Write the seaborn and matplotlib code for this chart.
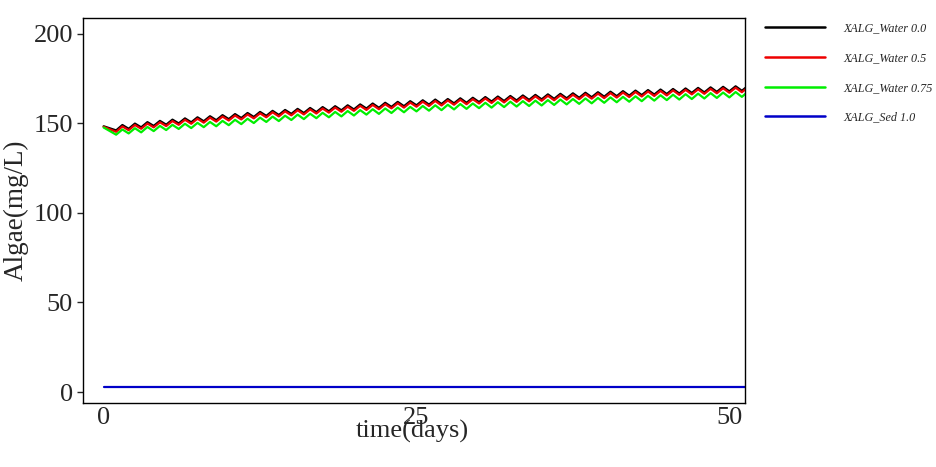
import numpy as np
import pandas as pd
import matplotlib
matplotlib.use("Agg")
import matplotlib.pyplot as plt
import seaborn as sns

# ---------------- data ----------------
series_names = ["XALG_Water 0.0", "XALG_Water 0.5", "XALG_Water 0.75", "XALG_Sed 1.0"]
series_colors = ["#000000", "#ee0000", "#00ee00", "#0000c8"]

start_values = [148.3, 148.0, 147.6]          # day 0
trough_days = list(range(1, 52))              # 1 .. 51
peak_days = [d + 0.5 for d in range(1, 52)]   # 1.5 .. 51.5

black_troughs = [146.0, 146.9, 147.7, 148.5, 149.2, 149.9, 150.5, 151.1, 151.7, 152.3,
                 152.9, 153.5, 154.1, 154.6, 155.2, 155.7, 156.2, 156.7, 157.2, 157.7,
                 158.2, 158.6, 159.1, 159.5, 160.0, 160.4, 160.7, 161.1, 161.4, 161.8,
                 162.1, 162.4, 162.7, 163.0, 163.3, 163.6, 163.9, 164.2, 164.5, 164.8,
                 165.1, 165.4, 165.7, 166.0, 166.3, 166.6, 166.9, 167.2, 167.5, 167.8, 168.1]
black_peaks = [149.0, 149.8, 150.6, 151.3, 152.0, 152.7, 153.3, 153.9, 154.5, 155.1,
               155.7, 156.3, 156.9, 157.4, 158.0, 158.5, 159.0, 159.5, 160.0, 160.5,
               161.0, 161.4, 161.9, 162.3, 162.8, 163.2, 163.5, 163.9, 164.2, 164.6,
               164.9, 165.2, 165.5, 165.8, 166.1, 166.4, 166.7, 167.0, 167.3, 167.6,
               167.9, 168.2, 168.5, 168.8, 169.1, 169.4, 169.7, 170.0, 170.3, 170.6, 170.9]

red_troughs = [145.2, 146.1, 146.9, 147.7, 148.4, 149.1, 149.7, 150.3, 150.9, 151.5,
               152.1, 152.7, 153.3, 153.8, 154.4, 154.9, 155.4, 155.9, 156.4, 156.9,
               157.4, 157.8, 158.3, 158.7, 159.2, 159.6, 159.9, 160.3, 160.6, 161.0,
               161.3, 161.6, 161.9, 162.2, 162.5, 162.8, 163.1, 163.4, 163.7, 164.0,
               164.3, 164.6, 164.9, 165.2, 165.5, 165.8, 166.1, 166.4, 166.7, 167.0, 167.3]
red_peaks = [148.2, 149.0, 149.8, 150.5, 151.2, 151.9, 152.5, 153.1, 153.7, 154.3,
             154.9, 155.5, 156.1, 156.6, 157.2, 157.7, 158.2, 158.7, 159.2, 159.7,
             160.2, 160.6, 161.1, 161.5, 162.0, 162.4, 162.7, 163.1, 163.4, 163.8,
             164.1, 164.4, 164.7, 165.0, 165.3, 165.6, 165.9, 166.2, 166.5, 166.8,
             167.1, 167.4, 167.7, 168.0, 168.3, 168.6, 168.9, 169.2, 169.5, 169.8, 170.1]

green_troughs = [143.6, 144.3, 144.9, 145.6, 146.2, 146.8, 147.3, 147.8, 148.3, 148.9,
                 149.5, 150.1, 150.7, 151.2, 151.8, 152.3, 152.8, 153.3, 153.8, 154.3,
                 154.8, 155.2, 155.7, 156.1, 156.6, 157.0, 157.3, 157.7, 158.0, 158.4,
                 158.7, 159.0, 159.3, 159.6, 159.9, 160.2, 160.5, 160.8, 161.1, 161.4,
                 161.7, 162.0, 162.3, 162.6, 162.9, 163.2, 163.5, 163.8, 164.1, 164.4, 164.7]
green_peaks = [146.5, 147.2, 147.9, 148.5, 149.1, 149.7, 150.2, 150.7, 151.3, 151.9,
               152.5, 153.1, 153.7, 154.2, 154.8, 155.3, 155.8, 156.3, 156.8, 157.3,
               157.8, 158.2, 158.7, 159.1, 159.6, 160.0, 160.3, 160.7, 161.0, 161.4,
               161.7, 162.0, 162.3, 162.6, 162.9, 163.2, 163.5, 163.8, 164.1, 164.4,
               164.7, 165.0, 165.3, 165.6, 165.9, 166.2, 166.5, 166.8, 167.1, 167.4, 167.7]

sed_days = [0.0, 51.5]
sed_values = [3.0, 3.0]

x_ticks = [0, 25, 50]
y_ticks = [0, 50, 100, 150, 200]

# ---------------- build long table ----------------
rows = []
wave_sets = [(black_troughs, black_peaks), (red_troughs, red_peaks), (green_troughs, green_peaks)]
for name, start, (tr, pk) in zip(series_names[:3], start_values, wave_sets):
    rows.append((name, 0.0, start))
    for d, v in zip(trough_days, tr):
        rows.append((name, float(d), v))
    for d, v in zip(peak_days, pk):
        rows.append((name, float(d), v))
for d, v in zip(sed_days, sed_values):
    rows.append((series_names[3], d, v))
df = pd.DataFrame(rows, columns=["series", "time", "value"])

# ---------------- plot ----------------
sns.set_style("white")
plt.rcParams["font.family"] = ["Liberation Serif", "DejaVu Serif"]

fig = plt.figure(figsize=(9.37, 4.67), dpi=100)
ax = fig.add_axes([82.6 / 937, 1 - 403 / 467, (745 - 82.6) / 937, (403 - 18) / 467])

sns.lineplot(data=df, x="time", y="value", hue="series", hue_order=series_names,
             palette=dict(zip(series_names, series_colors)), estimator=None,
             sort=True, linewidth=1.6, ax=ax, legend=True)

ax.set_xlim(-1.68, 51.25)
ax.set_ylim(-6.1, 208.7)
ax.set_xticks(x_ticks)
ax.set_yticks(y_ticks)
ax.tick_params(axis="y", direction="out", length=4, width=1, labelsize=19, pad=3, left=True)
ax.tick_params(axis="x", length=0, labelsize=19, pad=3)
for s in ax.spines.values():
    s.set_color("black")
    s.set_linewidth(1)

ax.set_ylabel("Algae(mg/L)", fontsize=19.5)
ax.yaxis.label.set_va("center")
ax.yaxis.set_label_coords(-0.100, 0.5)
ax.set_xlabel("time(days)", fontsize=19)
ax.xaxis.label.set_va("center")
ax.xaxis.set_label_coords(0.497, -0.075)

handles, labels = ax.get_legend_handles_labels()
ax.get_legend().remove()
leg = fig.legend(handles, labels, loc="upper left", bbox_to_anchor=(765 / 937, 1 - 22 / 467),
                 frameon=False, borderaxespad=0, borderpad=0, handlelength=5.0,
                 handletextpad=1.5, labelspacing=1.48,
                 prop={"family": "Liberation Serif", "style": "italic", "size": 8.7})
for line in leg.get_lines():
    line.set_linewidth(1.8)

fig.savefig("out.png", dpi=100)
